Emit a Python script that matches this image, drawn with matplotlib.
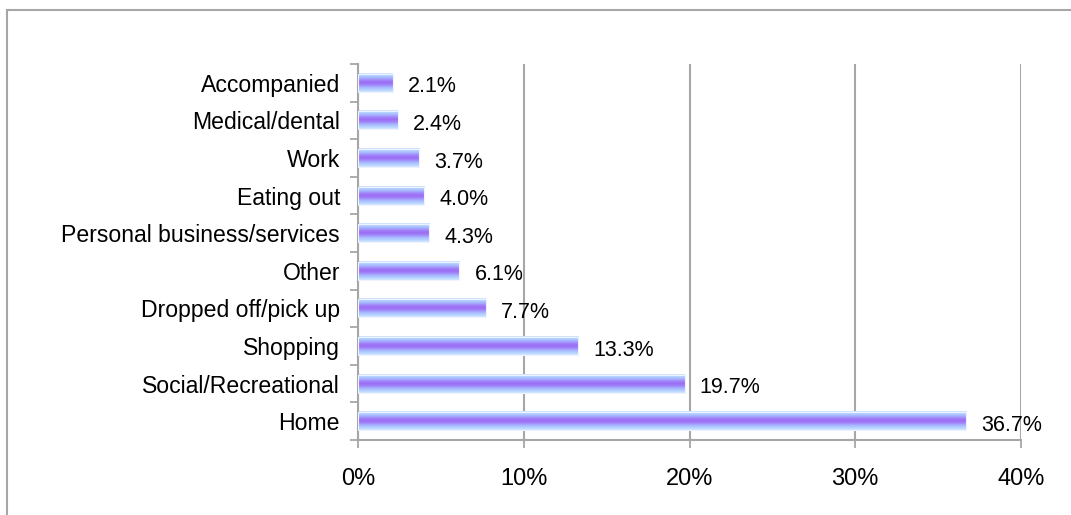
import numpy as np
import matplotlib.pyplot as plt
from matplotlib.colors import LinearSegmentedColormap
from matplotlib.patches import Rectangle

plt.rcParams['font.family'] = ['Liberation Sans', 'DejaVu Sans']

# trip purpose shares, bottom to top
purposes = ['Home', 'Social/Recreational', 'Shopping', 'Dropped off/pick up',
            'Other', 'Personal business/services', 'Eating out', 'Work',
            'Medical/dental', 'Accompanied']
shares = [36.7, 19.7, 13.3, 7.7, 6.1, 4.3, 4.0, 3.7, 2.4, 2.1]
x_ticks = [0, 10, 20, 30, 40]

grey = '#a6a6a6'
bar_h = 0.48

# light blue at the bar edges, purple through the middle
edge_to_mid = ['#d4e7ff', '#b2d0ff', '#a6b4ff', '#a184fa', '#9a6af2']
bar_cmap = LinearSegmentedColormap.from_list('bar', edge_to_mid + edge_to_mid[-2::-1])
grad = np.linspace(0, 1, 64).reshape(-1, 1)

fig = plt.figure(figsize=(10.71, 5.15), dpi=100)
ax = fig.add_axes([358 / 1071, 75 / 515, 663 / 1071, 376 / 515])

ypos = np.arange(len(purposes))
for y, v in zip(ypos, shares):
    ax.imshow(grad, cmap=bar_cmap, aspect='auto', interpolation='bilinear',
              extent=(0, v, y - bar_h / 2, y + bar_h / 2), zorder=2)
    ax.add_patch(Rectangle((0, y - bar_h / 2), v, bar_h, fill=False,
                           edgecolor='#eef3ff', lw=0.8, zorder=3))
    ax.annotate(f'{v:.1f}%', (v, y), xytext=(11, -3), textcoords='offset points',
                va='center', ha='left', fontsize=15.5, color='black')

ax.set_xlim(0, 40)
ax.set_ylim(-0.5, len(purposes) - 0.5)
ax.set_xticks(x_ticks)
ax.set_xticklabels([f'{t}%' for t in x_ticks], fontsize=17)
ax.set_yticks(ypos)
ax.set_yticklabels(purposes, fontsize=16.6)
ax.set_yticks(np.arange(-0.5, len(purposes), 1), minor=True)

ax.tick_params(axis='y', which='major', length=0, pad=13)
ax.tick_params(axis='y', which='minor', length=6, width=1.3, color=grey, direction='out')
ax.tick_params(axis='x', length=6, width=1.3, color=grey, pad=14)

ax.grid(axis='x', color=grey, lw=1.5, zorder=0)
ax.set_axisbelow(True)
for side in ['top', 'right']:
    ax.spines[side].set_visible(False)
for side in ['left', 'bottom']:
    ax.spines[side].set_color(grey)
    ax.spines[side].set_linewidth(1.5)

# outer frame, open on the right and bottom
fig.add_artist(Rectangle((7 / 1071, -0.2), 1.5, 0.2 + (1 - 10 / 515),
                         transform=fig.transFigure, fill=False,
                         edgecolor=grey, lw=1.5))

fig.savefig('out.png', dpi=100)
